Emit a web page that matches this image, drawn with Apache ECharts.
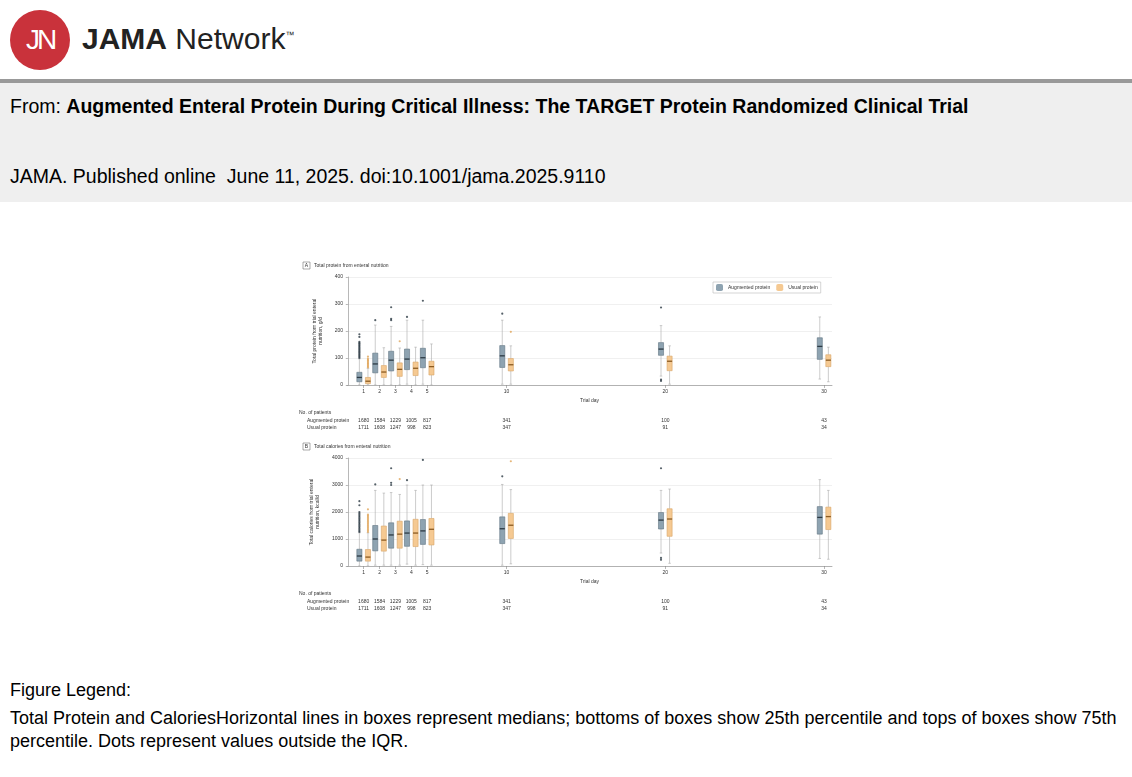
<!DOCTYPE html>
<html><head><meta charset="utf-8">
<script src="https://cdn.jsdelivr.net/npm/echarts@6/dist/echarts.min.js"></script>
<style>
body{margin:0;width:1132px;height:777px;background:#fff;font-family:"Liberation Sans",Arial,sans-serif;position:relative;overflow:hidden}
#logo{position:absolute;left:10px;top:10px;width:60px;height:60px;border-radius:50%;background:#c9323b;color:#fff;font-size:28px;line-height:60px;text-align:center;letter-spacing:-3px}
#brand{position:absolute;left:82px;top:22px;font-size:30px;color:#222}
#band{position:absolute;left:0;top:79px;width:1132px;height:119px;background:#efefef;border-top:4px solid #999}
.t{position:absolute;left:10px;font-size:19.5px;color:#000}
#chart{position:absolute;left:295px;top:255px;width:545px;height:370px}
</style></head><body>
<div id="logo">JN</div>
<div id="brand"><b>JAMA</b> Network<sup style="font-size:9px">™</sup></div>
<div id="band"></div>
<div class="t" style="top:95px">From: <b>Augmented Enteral Protein During Critical Illness: The TARGET Protein Randomized Clinical Trial</b></div>
<div class="t" style="top:165px">JAMA. Published online&nbsp; June 11, 2025. doi:10.1001/jama.2025.9110</div>
<div class="t" style="top:680px;font-size:18px">Figure Legend:</div>
<div class="t" style="top:707px;font-size:18px;line-height:23px;width:1118px">Total Protein and CaloriesHorizontal lines in boxes represent medians; bottoms of boxes show 25th percentile and tops of boxes show 75th percentile. Dots represent values outside the IQR.</div>
<div id="chart"></div>
<script>
const days=[1,2,3,4,5,10,20,30];
const nAug=[1680,1584,1229,1005,817,341,100,43];
const nUsual=[1711,1608,1247,998,823,347,91,34];
// [min,q1,median,q3,max]
const protAug=[[0,12,28,47,97],[0,45,78,118,222],[0,52,92,125,217],[3,57,96,133,240],[3,64,101,136,240],[3,65,108,146,240],[33,110,133,157,220],[22,95,143,175,252]];
const protUsual=[[0,5,14,28,62],[0,28,48,72,138],[0,32,58,82,137],[0,35,62,85,140],[0,37,68,88,152],[3,52,75,98,145],[3,53,88,107,145],[12,68,92,112,140]];
const protAugOut=[[1,100],[1,104],[1,108],[1,112],[1,116],[1,120],[1,124],[1,128],[1,132],[1,136],[1,140],[1,144],[1,148],[1,152],[1,156],[1,160],[1,178],[1,188],[2,240],[3,240],[3,245],[3,288],[4,252],[5,312],[10,264],[20,287],[20,15],[20,20]];
const protUsualOut=[[1,65],[1,69],[1,73],[1,77],[1,81],[1,85],[1,89],[1,93],[1,97],[1,105],[3,162],[10,197]];
const calAug=[[0,180,370,620,1230],[30,560,1000,1500,2800],[30,660,1150,1600,2720],[70,730,1220,1670,3000],[50,800,1300,1720,3000],[30,830,1380,1820,3020],[480,1370,1700,1980,2800],[280,1180,1800,2200,3200]];
const calUsual=[[0,180,330,610,1230],[30,550,960,1480,2700],[30,660,1180,1660,2650],[30,720,1220,1730,2800],[30,780,1360,1760,3000],[80,1020,1510,1950,2830],[100,1100,1740,2120,2850],[250,1350,1830,2180,2800]];
const calAugOut=[[1,1260],[1,1300],[1,1350],[1,1400],[1,1450],[1,1500],[1,1550],[1,1600],[1,1650],[1,1700],[1,1750],[1,1800],[1,1850],[1,1900],[1,1950],[1,2000],[1,2250],[1,2400],[2,3020],[3,3000],[3,3080],[3,3620],[4,3180],[5,3930],[10,3320],[20,3620],[20,230],[20,300]];
const calUsualOut=[[1,1260],[1,1310],[1,1360],[1,1410],[1,1460],[1,1510],[1,1560],[1,1610],[1,1660],[1,1710],[1,1760],[1,1810],[1,1860],[1,1900],[1,2100],[3,3220],[10,3880]];

const OFF=0.27, HW=0.16;
const C={aug:{fill:'#8ea3b1',stroke:'#5f7381',med:'#2c3a44'},usual:{fill:'#f5c992',stroke:'#d6a566',med:'#8b5b22'}};
function boxData(arr,s){return arr.map((b,i)=>[days[i]+s*OFF].concat(b));}
function outData(arr,s){return arr.map(p=>[p[0]+s*OFF,p[1]]);}
function render(col){return function(params,api){
  const x=api.value(0);
  const pMin=api.coord([x,api.value(1)]),pQ1=api.coord([x,api.value(2)]),pMed=api.coord([x,api.value(3)]),pQ3=api.coord([x,api.value(4)]),pMax=api.coord([x,api.value(5)]);
  const l=api.coord([x-HW,0])[0], r=api.coord([x+HW,0])[0], cx=pMed[0], cl=api.coord([x-HW/2,0])[0], cr=api.coord([x+HW/2,0])[0];
  const ls={stroke:'#aaa',lineWidth:0.6};
  return {type:'group',children:[
    {type:'line',shape:{x1:cx,y1:pMin[1],x2:cx,y2:pQ1[1]},style:ls},
    {type:'line',shape:{x1:cx,y1:pQ3[1],x2:cx,y2:pMax[1]},style:ls},
    {type:'line',shape:{x1:cl,y1:pMin[1],x2:cr,y2:pMin[1]},style:ls},
    {type:'line',shape:{x1:cl,y1:pMax[1],x2:cr,y2:pMax[1]},style:ls},
    {type:'rect',shape:{x:l,y:pQ3[1],width:r-l,height:pQ1[1]-pQ3[1]},style:{fill:col.fill,stroke:col.stroke,lineWidth:0.6}},
    {type:'line',shape:{x1:l,y1:pMed[1],x2:r,y2:pMed[1]},style:{stroke:col.med,lineWidth:1.3}}
  ]};
};}
const txt={fontFamily:'Liberation Sans',fontSize:5,color:'#333'};
const xAx=(gi)=>({type:'value',gridIndex:gi,min:-0.05,max:30.5,splitLine:{show:false},
  axisLine:{lineStyle:{color:'#888',width:0.6}},axisTick:{show:true,customValues:days,length:3,lineStyle:{color:'#888',width:0.6}},
  axisLabel:{customValues:days,...txt,margin:4},name:'Trial day',nameLocation:'middle',nameGap:13,nameTextStyle:txt});
const yAx=(gi,max,iv,name)=>({type:'value',gridIndex:gi,min:0,max:max,interval:iv,
  axisLine:{show:true,lineStyle:{color:'#888',width:0.6}},axisTick:{show:true,length:2,lineStyle:{color:'#888',width:0.6}},
  axisLabel:{...txt,margin:4,formatter:v=>String(v)},splitLine:{lineStyle:{color:'#e6e6e6',width:0.6}},
  name:name,nameLocation:'middle',nameGap:18,nameRotate:90,nameTextStyle:{...txt,lineHeight:6}});
function mk(name,data,xi,col,isBox){
  if(isBox) return {name:name,type:'custom',xAxisIndex:xi,yAxisIndex:xi,data:data,renderItem:render(col),itemStyle:{color:col.fill,borderColor:col.stroke},encode:{x:0,y:[1,2,3,4,5]}};
  return {name:name,type:'scatter',xAxisIndex:xi,yAxisIndex:xi,data:data,symbolSize:2.2,itemStyle:{color:col.med},z:3};
}
const chart=echarts.init(document.getElementById('chart'),null,{renderer:'canvas'});
chart.setOption({
  animation:false,
  grid:[{left:52,top:22,width:485,height:108},{left:52,top:203,width:485,height:108}],
  xAxis:[xAx(0),xAx(1)],
  yAxis:[yAx(0,400,100,'Total protein from trial enteral\nnutrition, g/d'),yAx(1,4000,1000,'Total calories from trial enteral\nnutrition, kcal/d')],
  legend:{data:['Augmented protein','Usual protein'],left:418,top:27,itemWidth:7,itemHeight:7,itemGap:6,
    textStyle:txt,borderColor:'#bbb',borderWidth:0.6,padding:[2,3]},
  series:[
    mk('Augmented protein',boxData(protAug,-1),0,C.aug,true),
    mk('Usual protein',boxData(protUsual,1),0,C.usual,true),
    mk('ao',outData(protAugOut,-1),0,C.aug,false),
    mk('uo',outData(protUsualOut,1),0,{med:'#e0a55a'},false),
    mk('Augmented protein',boxData(calAug,-1),1,C.aug,true),
    mk('Usual protein',boxData(calUsual,1),1,C.usual,true),
    mk('ao2',outData(calAugOut,-1),1,C.aug,false),
    mk('uo2',outData(calUsualOut,1),1,{med:'#e0a55a'},false)
  ]
});
const g=[];
function panelTitle(letter,title,y){
  g.push({type:'rect',shape:{x:8,y:y-4,width:7,height:7},style:{fill:'none',stroke:'#555',lineWidth:0.5}});
  g.push({type:'text',x:11.5,y:y,style:{text:letter,fontSize:5,fill:'#333',align:'center',verticalAlign:'middle'}});
  g.push({type:'text',x:19,y:y,style:{text:title,fontSize:5,fill:'#333',verticalAlign:'middle'}});
}
panelTitle('A','Total protein from enteral nutrition',11);
panelTitle('B','Total calories from enteral nutrition',192);
function table(y0){
  g.push({type:'text',x:4,y:y0,style:{text:'No. of patients',fontSize:5,fill:'#333',verticalAlign:'middle'}});
  g.push({type:'text',x:12,y:y0+8,style:{text:'Augmented protein',fontSize:5,fill:'#333',verticalAlign:'middle'}});
  g.push({type:'text',x:12,y:y0+15,style:{text:'Usual protein',fontSize:5,fill:'#333',verticalAlign:'middle'}});
  days.forEach((d,i)=>{
    const px=chart.convertToPixel({xAxisIndex:0},d);
    g.push({type:'text',x:px,y:y0+8,style:{text:String(nAug[i]),fontSize:5,fill:'#333',align:'center',verticalAlign:'middle'}});
    g.push({type:'text',x:px,y:y0+15,style:{text:String(nUsual[i]),fontSize:5,fill:'#333',align:'center',verticalAlign:'middle'}});
  });
}
table(158);table(339);
chart.setOption({graphic:g});
</script>
</body></html>
